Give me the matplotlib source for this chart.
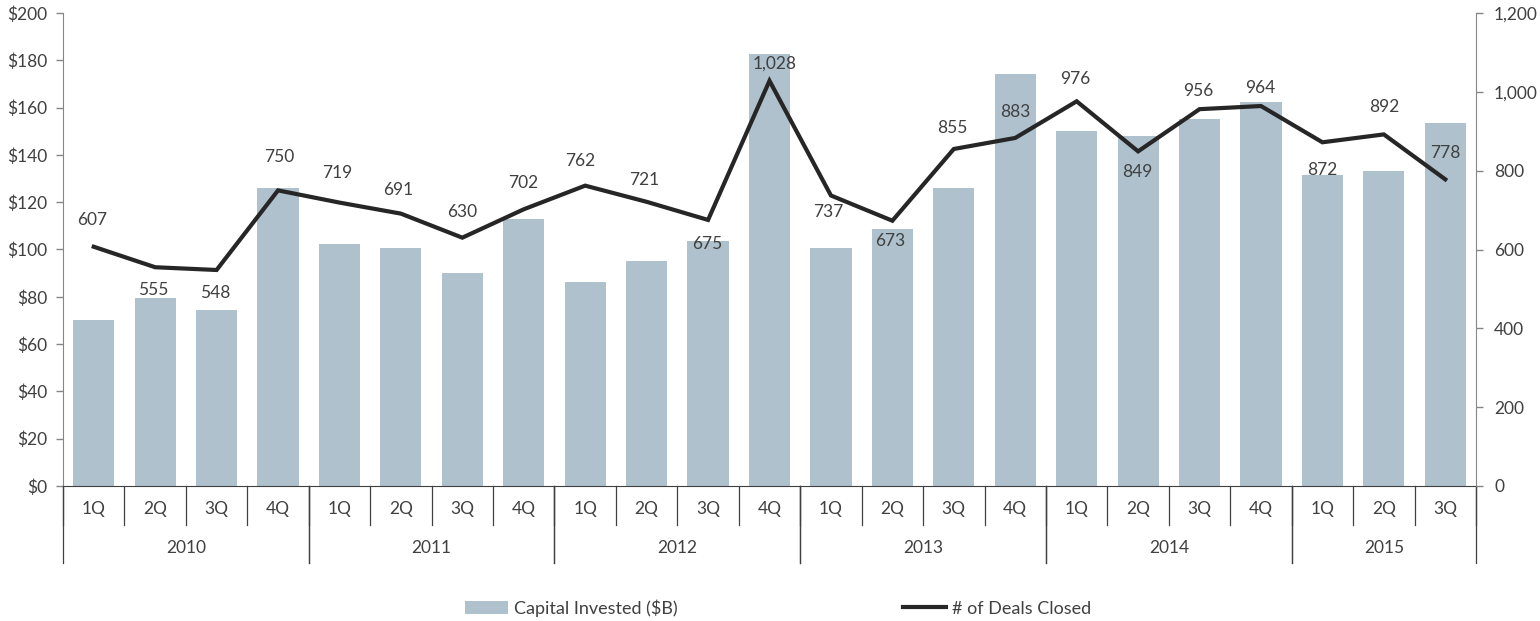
import matplotlib.pyplot as plt
import matplotlib.transforms as mtransforms
import numpy as np

plt.rcParams['font.family'] = ['Lato', 'DejaVu Sans']

# Data
years = ["2010", "2011", "2012", "2013", "2014", "2015"]
quarters_per_year = [4, 4, 4, 4, 4, 3]
quarter_labels = ["1Q", "2Q", "3Q", "4Q"] * 5 + ["1Q", "2Q", "3Q"]
capital = [70, 79.5, 74.5, 126, 102.3, 100.6, 90, 113, 86.3, 95.1, 103.6, 182.7,
           100.6, 108.7, 126, 174.2, 150.1, 148, 155.2, 162.4, 131.5, 133.2, 153.5]
deals = [607, 555, 548, 750, 719, 691, 630, 702, 762, 721, 675, 1028,
         737, 673, 855, 883, 976, 849, 956, 964, 872, 892, 778]

# label offsets in pixels (dx, dy; dy positive = up)
label_offsets = [(-2, 27), (-2, -23), (-1, -23), (1, 33), (-2, 30), (-3, 24),
                 (0, 26), (-1, 26), (-5, 25), (-2, 22), (-1, -24), (5, 17),
                 (-3, -17), (-2, -20), (-1, 21), (0, 26), (-1, 22), (-1, -21),
                 (-1, 18), (-1, 18), (0, -28), (0, 27), (0, 26)]

bar_color = "#AEC1CC"
line_color = "#262626"
text_color = "#404040"
spine_color = "#868686"

fig = plt.figure(figsize=(15.4, 6.21), dpi=100)
ax = fig.add_axes([63 / 1540, 1 - 486 / 621, (1476 - 63) / 1540, 473 / 621])
x = np.arange(len(capital))

ax.bar(x, capital, width=0.67, color=bar_color, zorder=2, label="Capital Invested ($B)")
ax.set_xlim(-0.5, len(capital) - 0.5)
ax.set_ylim(0, 200)
ax.set_yticks(np.arange(0, 201, 20))
ax.set_yticklabels([f"${v}" for v in range(0, 201, 20)])
ax.set_xticks([])

for s in ["top", "right"]:
    ax.spines[s].set_visible(False)
ax.spines["left"].set_color(spine_color)
ax.spines["bottom"].set_color("#404040")
ax.tick_params(axis="y", colors=spine_color, labelcolor=text_color, labelsize=12.5,
               length=5, width=1, direction="out", pad=6)

ax2 = ax.twinx()
ax2.plot(x, deals, color=line_color, lw=3, solid_joinstyle="miter", zorder=3,
         label="# of Deals Closed")
ax2.set_ylim(0, 1200)
ax2.set_yticks(np.arange(0, 1201, 200))
ax2.set_yticklabels([f"{v:,}" for v in range(0, 1201, 200)])
for s in ["top", "left", "bottom"]:
    ax2.spines[s].set_visible(False)
ax2.spines["right"].set_color(spine_color)
ax2.tick_params(axis="y", colors=spine_color, labelcolor=text_color, labelsize=12.5,
                length=5, width=1, direction="out", pad=8)

for xi, v, (dx, dy) in zip(x, deals, label_offsets):
    ax2.annotate(f"{v:,}", (xi, v), xytext=(dx, dy), textcoords="offset pixels",
                 ha="center", va="center", fontsize=12.5, color=text_color, zorder=4)

# multi-level category axis
trans = mtransforms.blended_transform_factory(ax.transData, ax.transAxes)
q_line = -39 / 473
y_line = -77 / 473
for b in np.arange(len(capital) + 1) - 0.5:
    ax.plot([b, b], [0, q_line], transform=trans, color="#404040", lw=0.9, clip_on=False)
for xi, ql in zip(x, quarter_labels):
    ax.text(xi, -23 / 473, ql, transform=trans, ha="center", va="center",
            fontsize=12.5, color=text_color)

start = 0
for yr, n in zip(years, quarters_per_year):
    left = start - 0.5
    right = start + n - 0.5
    ax.plot([left, left], [0, y_line], transform=trans, color="#404040", lw=0.9, clip_on=False)
    ax.plot([right, right], [0, y_line], transform=trans, color="#404040", lw=0.9, clip_on=False)
    ax.text((left + right) / 2, -62 / 473, yr, transform=trans, ha="center", va="center",
            fontsize=12.5, color=text_color)
    start += n

h1, l1 = ax.get_legend_handles_labels()
h2, l2 = ax2.get_legend_handles_labels()
leg = fig.legend(h1 + h2, l1 + l2, loc="center", bbox_to_anchor=(778 / 1540, 1 - 608 / 621),
                 ncol=2, frameon=False, fontsize=13, columnspacing=12.5, handlelength=2.4,
                 handletextpad=0.3)
for t in leg.get_texts():
    t.set_color(text_color)

fig.savefig("out.png", dpi=100)
